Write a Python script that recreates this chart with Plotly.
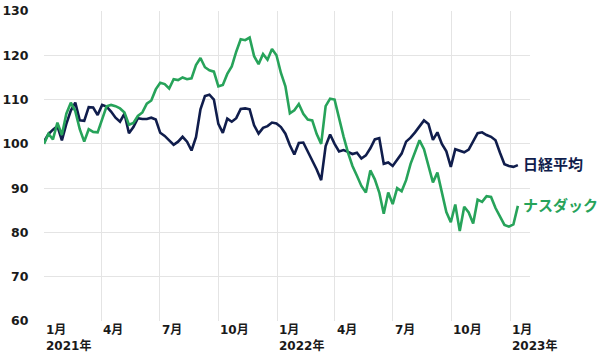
import pandas as pd
import plotly.graph_objects as go

# Weekly index values (start of 2021 = 100)
nikkei = [100.5, 102.2, 103.2, 104.0, 100.8, 104.5, 107.5, 109.3, 105.3, 105.2,
          108.3, 108.2, 106.5, 108.8, 108.4, 107.3, 105.9, 105.0, 106.8, 102.4,
          103.8, 105.8, 105.6, 105.6, 105.9, 105.5, 102.5, 101.8, 100.8, 99.8,
          100.5, 101.6, 100.5, 98.5, 101.5, 107.8, 110.8, 111.1, 110.0, 104.5,
          102.5, 105.7, 105.0, 105.8, 107.9, 108.0, 107.8, 104.2, 102.3, 103.6,
          104.0, 104.8, 104.6, 103.8, 102.3, 99.7, 97.6, 100.2, 100.3, 98.3,
          96.4, 94.2, 91.8, 99.5, 102.1, 100.0, 98.3, 98.6, 98.2, 97.7,
          98.0, 96.7, 97.4, 99.0, 101.0, 101.3, 95.5, 95.8, 95.0, 96.5,
          97.8, 100.5, 101.4, 102.6, 104.1, 105.3, 104.5, 100.9, 102.6, 100.0,
          98.3, 94.8, 98.8, 98.4, 98.1, 98.7, 100.5, 102.4, 102.6, 102.0,
          101.6, 100.8, 98.0, 95.4, 95.0, 94.8, 95.2]

nasdaq = [100.0, 102.3, 101.0, 104.8, 102.0, 106.8, 109.3, 107.4, 103.3, 100.5,
          103.3, 102.7, 102.6, 105.7, 108.5, 108.8, 108.5, 108.0, 107.1, 104.3,
          104.7, 106.3, 107.1, 109.1, 109.8, 112.3, 113.8, 113.5, 112.5, 114.6,
          114.4, 115.0, 114.6, 114.8, 117.8, 119.4, 117.3, 116.6, 116.3, 113.0,
          113.3, 115.8, 117.5, 120.8, 123.6, 123.4, 124.0, 119.8, 118.0, 120.3,
          119.0, 121.4, 120.0, 116.0, 113.0, 106.9, 107.6, 109.0, 106.8, 105.5,
          105.3, 102.2, 100.0, 108.5, 110.2, 110.0, 105.5, 101.7, 98.0, 95.0,
          92.8, 90.5, 89.0, 94.0, 92.0, 89.0, 84.2, 89.0, 86.4, 90.0,
          89.3, 91.8, 95.5, 98.3, 100.8, 98.8, 95.3, 91.3, 93.5, 89.0,
          84.6, 82.3, 86.3, 80.3, 85.8, 84.5, 82.0, 87.4, 86.9, 88.2,
          88.0, 85.5, 83.5, 81.7, 81.3, 81.8, 86.0]

dates = pd.date_range("2021-01-01", periods=len(nikkei), freq="7D")

tick_dates = ["2021-01-01", "2021-04-01", "2021-07-01", "2021-10-01",
              "2022-01-01", "2022-04-01", "2022-07-01", "2022-10-01", "2023-01-01"]
tick_labels = ["1月<br>2021年", "4月", "7月", "10月",
               "1月<br>2022年", "4月", "7月", "10月", "1月<br>2023年"]

series_names = ["日経平均", "ナスダック"]
NAVY = "#101d4c"
GREEN = "#27a35a"
FONT = "DejaVu Sans, Noto Sans CJK JP, sans-serif"

fig = go.Figure()
fig.add_trace(go.Scatter(x=dates, y=nikkei, mode="lines", name=series_names[0],
                         line=dict(color=NAVY, width=2.6)))
fig.add_trace(go.Scatter(x=dates, y=nasdaq, mode="lines", name=series_names[1],
                         line=dict(color=GREEN, width=2.6)))

# End-of-line series labels
for vals, name, col in [(nikkei, series_names[0], NAVY), (nasdaq, series_names[1], GREEN)]:
    fig.add_annotation(x=dates[-1], y=vals[-1], text="<b>%s</b>" % name,
                       xref="x", yref="y", xanchor="left", yanchor="middle",
                       xshift=3, showarrow=False,
                       font=dict(family=FONT, size=15, color=col))

# Left-aligned x tick labels
for d, t in zip(tick_dates, tick_labels):
    fig.add_annotation(x=d, y=0, xref="x", yref="paper", text="<b>%s</b>" % t,
                       xanchor="left", yanchor="top", align="left", showarrow=False,
                       font=dict(family=FONT, size=12, color="#1a1a1a"))

fig.update_layout(
    width=600, height=355,
    margin=dict(l=44, r=70, t=11, b=34),
    paper_bgcolor="white", plot_bgcolor="white",
    showlegend=False,
    font=dict(family=FONT),
)
fig.update_xaxes(type="date", range=["2021-01-01", "2023-02-01"],
                 tickvals=tick_dates, showticklabels=False,
                 showgrid=True, gridcolor="#e4e4e4", gridwidth=1,
                 zeroline=False, showline=False, automargin=False)
fig.update_yaxes(range=[60, 130], dtick=10, tick0=60,
                 showgrid=True, gridcolor="#e4e4e4", gridwidth=1,
                 zeroline=False, showline=False, automargin=False,
                 ticks="outside", ticklen=12, tickcolor="rgba(0,0,0,0)",
                 tickfont=dict(family=FONT, size=12.5, color="#1a1a1a", weight="bold"))

fig.write_html("out.html")
